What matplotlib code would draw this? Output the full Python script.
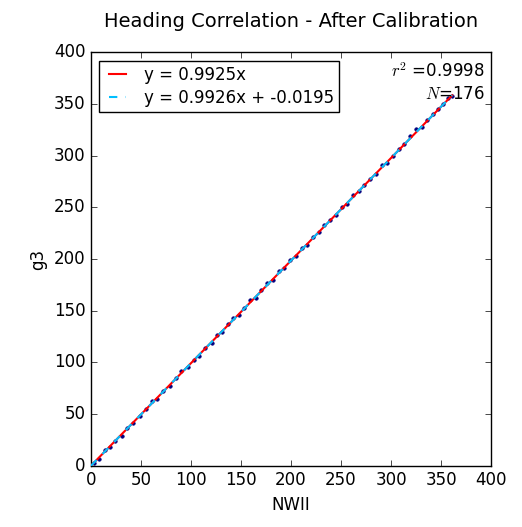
import numpy as np
import matplotlib
matplotlib.use('Agg')
import matplotlib.pyplot as plt

plt.style.use('classic')

# punti (NWII, g3)
nwii = [3, 8, 14, 19, 24, 31, 36, 42, 49, 55, 61, 66, 72, 79, 85, 90, 97, 103,
        108, 114, 121, 126, 131, 137, 142, 148, 153, 159, 165, 170, 176, 182,
        188, 193, 199, 205, 211, 216, 222, 228, 233, 239, 245, 251, 256, 262,
        268, 273, 279, 285, 291, 296, 302, 308, 313, 319, 325, 331, 336, 342,
        347, 352, 357, 361]
g3 = [3, 7, 15, 18, 24, 29, 37, 41, 48, 55, 63, 65, 72, 77, 85, 92, 96, 102,
      106, 114, 119, 127, 129, 137, 143, 146, 153, 160, 162, 170, 177, 180,
      188, 191, 199, 203, 211, 214, 221, 226, 233, 238, 243, 250, 253, 262,
      266, 272, 277, 282, 291, 293, 300, 306, 311, 319, 326, 328, 334, 340,
      345, 350, 356, 358]

slope1 = 0.9925
slope2, icpt2 = 0.9926, -0.0195
r2 = 0.9998
n_pts = 176

fig = plt.figure(figsize=(5.22, 5.27), dpi=100)
ax = fig.add_axes([0.174, 0.116, 0.767, 0.785])

ax.plot(nwii, g3, '.', color='navy', markersize=5, zorder=2)
xx = np.array([0, max(nwii)])
ax.plot(xx, slope1 * xx, '-', color='red', linewidth=1.5, label='y = %.4fx' % slope1, zorder=3)
ax.plot(xx, slope2 * xx + icpt2, '--', color='deepskyblue', linewidth=1.5,
        label='y = %.4fx + %.4f' % (slope2, icpt2), zorder=4)

ax.set_xlim(0, 400)
ax.set_ylim(0, 400)
ax.set_xlabel('NWII')
ax.set_ylabel('g3')
ax.set_title('Heading Correlation - After Calibration', fontsize=14, y=1.045)

ax.legend(loc='upper left', fontsize=12, handlelength=1.6, borderaxespad=0.5,
          labelspacing=0.3, borderpad=0.3)

ax.text(0.985, 0.975, r'$r^2$ =%.4f' % r2, transform=ax.transAxes,
        ha='right', va='top', fontsize=12)
ax.text(0.985, 0.92, r'$N$=%d' % n_pts, transform=ax.transAxes,
        ha='right', va='top', fontsize=12)

fig.savefig('out.png', dpi=100)
